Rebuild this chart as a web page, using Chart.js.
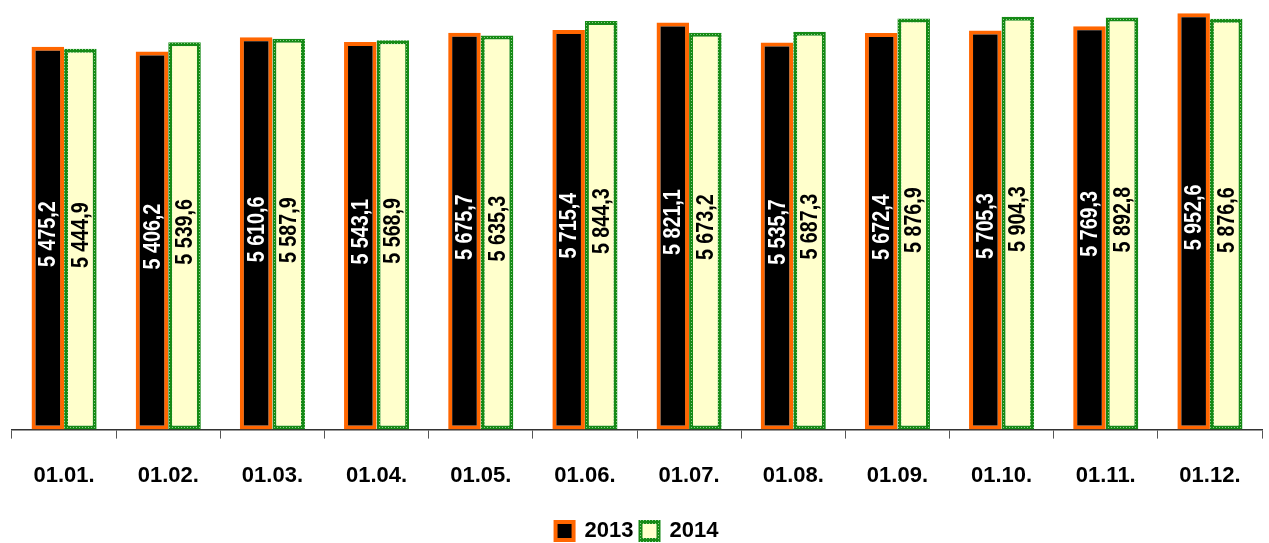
<!DOCTYPE html>
<html>
<head>
<meta charset="utf-8">
<script src="https://cdn.jsdelivr.net/npm/chart.js@4"></script>
<style>
  html, body { margin: 0; padding: 0; background: #fff; }
  #wrap { width: 1269px; height: 543px; }
</style>
</head>
<body>
<div id="wrap"><canvas id="grafico"></canvas></div>
<script>
const datas = ['01.01.', '01.02.', '01.03.', '01.04.', '01.05.', '01.06.', '01.07.', '01.08.', '01.09.', '01.10.', '01.11.', '01.12.'];
const valores2013 = [5475.2, 5406.2, 5610.6, 5543.1, 5675.7, 5715.4, 5821.1, 5535.7, 5672.4, 5705.3, 5769.3, 5952.6];
const valores2014 = [5444.9, 5539.6, 5587.9, 5568.9, 5635.3, 5844.3, 5673.2, 5687.3, 5876.9, 5904.3, 5892.8, 5876.6];

// formato "5 475,2"
function formatar(v) {
    const partes = v.toFixed(1).split('.');
    const inteiro = partes[0].replace(/\B(?=(\d{3})+(?!\d))/g, ' ');
    return inteiro + ',' + partes[1];
}

// borda pontilhada verde
function padraoVerde() {
    const c = document.createElement('canvas');
    c.width = 3; c.height = 3;
    const g = c.getContext('2d');
    g.fillStyle = '#168a16';
    g.fillRect(0, 0, 3, 3);
    g.fillStyle = '#8fd08f';
    g.fillRect(1, 1, 1, 1);
    return g.createPattern(c, 'repeat');
}
const verde = padraoVerde();

const rotulos = {
    id: 'rotulos',
    afterDatasetsDraw(chart) {
        const ctx = chart.ctx;
        const eixo = chart.scales.y;
        chart.data.datasets.forEach((ds, i) => {
            chart.getDatasetMeta(i).data.forEach((bar, j) => {
                const meio = (bar.y + eixo.getPixelForValue(0)) / 2 - 4;
                ctx.save();
                ctx.translate(bar.x, meio);
                ctx.rotate(-Math.PI / 2);
                ctx.scale(0.82, 1); // fonte estreita
                ctx.font = 'bold 24px "Liberation Sans", Arial, sans-serif';
                ctx.fillStyle = i === 0 ? '#ffffff' : '#000000';
                ctx.textAlign = 'center';
                ctx.textBaseline = 'middle';
                ctx.fillText(formatar(ds.data[j]), 0, 1);
                ctx.restore();
            });
        });
    }
};

new Chart(document.getElementById('grafico'), {
    type: 'bar',
    data: {
        labels: datas,
        datasets: [
            {
                label: '2013',
                data: valores2013,
                backgroundColor: '#000000',
                borderColor: '#ff6600',
                borderWidth: 4,
                borderSkipped: false
            },
            {
                label: '2014',
                data: valores2014,
                backgroundColor: '#ffffcc',
                borderColor: verde,
                borderWidth: 4,
                borderSkipped: false
            }
        ]
    },
    options: {
        responsive: true,
        maintainAspectRatio: false,
        animation: false,
        layout: { padding: { left: 12, right: 7, top: 10, bottom: -9 } },
        datasets: { bar: { categoryPercentage: 0.625, barPercentage: 1.0 } },
        scales: {
            x: {
                grid: { drawOnChartArea: false, tickLength: 9, color: '#555555', offset: true },
                border: { color: '#333333', width: 1.5 },
                ticks: {
                    color: '#000000',
                    padding: 24,
                    font: { family: '"Liberation Sans", Arial, sans-serif', size: 22, weight: 'bold' }
                }
            },
            y: { display: false, min: 0, max: 6000 }
        },
        plugins: {
            legend: {
                position: 'bottom',
                labels: {
                    color: '#000000',
                    boxWidth: 18,
                    boxHeight: 18,
                    padding: 7,
                    font: { family: '"Liberation Sans", Arial, sans-serif', size: 22, weight: 'bold' }
                }
            },
            tooltip: { enabled: false }
        }
    },
    plugins: [rotulos]
});
</script>
</body>
</html>
